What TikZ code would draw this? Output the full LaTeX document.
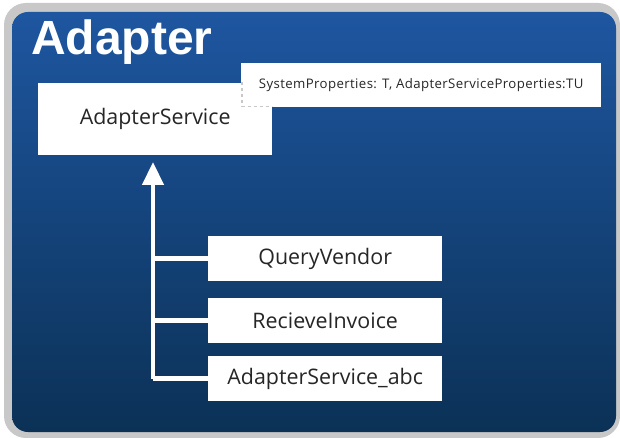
\documentclass[tikz,border=0pt]{standalone}
\usepackage{fontspec}
\setmainfont{Open Sans}
\newfontfamily\titlefont{Liberation Sans}
\newfontfamily\propfont[LetterSpace=3]{Open Sans}
\usetikzlibrary{arrows.meta}
\definecolor{frame}{RGB}{200,200,200}
\definecolor{bluetop}{RGB}{30,86,160}
\definecolor{bluebot}{RGB}{11,49,86}
\definecolor{dashgray}{RGB}{200,200,200}
\tikzset{
  svcbox/.style={draw=none, fill=white, anchor=north west, inner sep=0pt,
    font=\fontsize{21.4}{24}\selectfont, text=black!85},
  propbox/.style={draw=none, fill=white, anchor=north west,
    inner sep=0pt, font=\propfont\fontsize{13.2}{15}\selectfont, text=black!85},
  propedge/.style={draw=dashgray, dashed, line width=1.5pt},
  link/.style={draw=white, line width=4.5pt},
}
\begin{document}
\begin{tikzpicture}[x=1pt,y=-1pt]
  \useasboundingbox (0,0) rectangle (620,438);
  % frame and gradient panel
  \fill[frame, rounded corners=22] (4,3) rectangle (620,438);
  \shade[top color=bluetop, bottom color=bluebot, rounded corners=16] (12,12) rectangle (616,432);
  \node[anchor=base west, inner sep=0pt, text=white, font=\titlefont\bfseries\fontsize{48}{52}\selectfont] (title) at (31,55) {Adapter};
  % main service and its properties
  \node[svcbox, minimum width=234pt, minimum height=72pt] (svc) at (38,83) {AdapterService};
  \node[propbox, minimum width=360pt, minimum height=44pt] (props) at (241,63) {SystemProperties: T, AdapterServiceProperties:TU};
  % the dashed outline of the properties box shows where it lies over the service box
  \begin{scope}
    \clip (svc.north west) rectangle (svc.south east);
    \draw[propedge] ([shift={(1,1)}]props.north west) rectangle ([shift={(-1,-1)}]props.south east);
  \end{scope}
  % child services
  \node[svcbox, minimum width=234pt, minimum height=45pt] (qv) at (208,236) {QueryVendor};
  \node[svcbox, minimum width=234pt, minimum height=45pt] (ri) at (208,298) {RecieveInvoice};
  \node[svcbox, minimum width=234pt, minimum height=45pt] (abc) at (208,356) {AdapterService\_abc};
  % connectors
  \coordinate (trunk) at (153,378);
  \coordinate (tip) at (153,162);
  \draw[link, -{Triangle[width=21pt,length=23pt]}] (trunk |- abc.west) -- (tip);
  \draw[link] (abc.west) -- (trunk |- abc.west);
  \draw[link] (ri.west) -- (trunk |- ri.west);
  \draw[link] (qv.west) -- (trunk |- qv.west);
\end{tikzpicture}
\end{document}
